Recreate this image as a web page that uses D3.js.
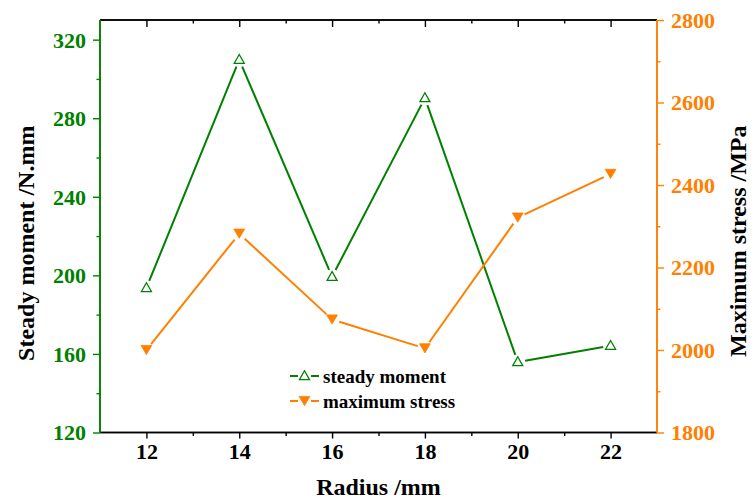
<!DOCTYPE html>
<html>
<head>
<meta charset="utf-8">
<script src="https://cdn.jsdelivr.net/npm/d3@7/dist/d3.min.js"></script>
<style>
  html, body { margin: 0; padding: 0; background: #fff; }
  svg { display: block; font-family: "Liberation Serif", "Times New Roman", serif; font-weight: bold; }
</style>
</head>
<body>
<svg id="chart" width="755" height="500"></svg>
<script>
// ---- data ----
const radius = [12, 14, 16, 18, 20, 22];
const steadyMoment = [193.6, 309.8, 199.3, 290.3, 155.9, 164.2];
const maxStress = [2000, 2282, 2074, 2004, 2321, 2427];
const xTicks = [12, 14, 16, 18, 20, 22];
const leftTicks = [120, 160, 200, 240, 280, 320];
const rightTicks = [1800, 2000, 2200, 2400, 2600, 2800];
const seriesNames = ["steady moment", "maximum stress"];

// ---- layout ----
const W = 755, H = 500;
const L = 100, R = 657, T = 20, B = 432.5;
const GREEN = "#008000", ORANGE = "#ff8000";

const svg = d3.select("#chart");

const x = d3.scaleLinear().domain([11, 23]).range([L, R]);
const yL = d3.scaleLinear().domain([120, 330]).range([B, T]);
const yR = d3.scaleLinear().domain([1800, 2800]).range([B, T]);

function minor(ticks, step) {
  const out = [];
  for (let i = 0; i < ticks.length; i++) {
    out.push(ticks[i] - step / 2);
  }
  out.push(ticks[ticks.length - 1] + step / 2);
  return out;
}

// ---- axes ----
const fontTick = 22;

// bottom axis
const gB = svg.append("g").attr("transform", `translate(0,${B})`);
gB.call(d3.axisBottom(x).tickValues(xTicks).tickSize(6).tickFormat(d3.format("d")));
gB.append("g").call(d3.axisBottom(x).tickValues(minor(xTicks, 2).filter(v => v > 11 && v < 23)).tickSize(3.5).tickFormat(""));
gB.selectAll("path.domain").attr("stroke", "#000").attr("stroke-width", 1.6).attr("d", `M${L},0H${R}`);
gB.selectAll(".tick line").attr("stroke", "#000").attr("stroke-width", 1.4);
gB.selectAll(".tick text").attr("font-size", fontTick).attr("font-family", "Liberation Serif").attr("font-weight", "bold").attr("fill", "#000").attr("dy", "0.9em").attr("y", 7);

// top axis (inward ticks, no labels)
const gT = svg.append("g").attr("transform", `translate(0,${T})`);
gT.call(d3.axisTop(x).tickValues(xTicks).tickSize(-7).tickFormat(""));
gT.append("g").call(d3.axisTop(x).tickValues(minor(xTicks, 2).filter(v => v > 11 && v < 23)).tickSize(-3.5).tickFormat(""));
gT.selectAll("path.domain").attr("stroke", "#000").attr("stroke-width", 1.6).attr("d", `M${L},0H${R}`);
gT.selectAll(".tick line").attr("stroke", "#000").attr("stroke-width", 1.4);

// left axis
const gL = svg.append("g").attr("transform", `translate(${L},0)`);
gL.call(d3.axisLeft(yL).tickValues(leftTicks).tickSize(7).tickFormat(d3.format("d")));
gL.append("g").call(d3.axisLeft(yL).tickValues(minor(leftTicks, 40).filter(v => v > 120 && v < 330)).tickSize(3.5).tickFormat(""));
gL.selectAll("path.domain").attr("stroke", GREEN).attr("stroke-width", 1.6).attr("d", `M0,${B}V${T}`);
gL.selectAll(".tick line").attr("stroke", GREEN).attr("stroke-width", 1.4);
gL.selectAll(".tick text").attr("font-size", fontTick).attr("font-family", "Liberation Serif").attr("font-weight", "bold").attr("fill", GREEN).attr("x", -14).attr("dy", "0.34em");

// right axis
const gR = svg.append("g").attr("transform", `translate(${R},0)`);
gR.call(d3.axisRight(yR).tickValues(rightTicks).tickSize(7).tickFormat(d3.format("d")));
gR.append("g").call(d3.axisRight(yR).tickValues(minor(rightTicks, 200).filter(v => v > 1800 && v < 2800)).tickSize(3.5).tickFormat(""));
gR.selectAll("path.domain").attr("stroke", ORANGE).attr("stroke-width", 1.6).attr("d", `M0,${B}V${T}`);
gR.selectAll(".tick line").attr("stroke", ORANGE).attr("stroke-width", 1.4);
gR.selectAll(".tick text").attr("font-size", fontTick).attr("font-family", "Liberation Serif").attr("font-weight", "bold").attr("fill", ORANGE).attr("x", 14).attr("dy", "0.34em");

// ---- axis titles ----
svg.append("text").attr("x", (L + R) / 2).attr("y", 495)
  .attr("text-anchor", "middle").attr("font-size", 24).attr("fill", "#000")
  .text("Radius /mm");
svg.append("text").attr("transform", `translate(34,${(T + B) / 2 + 17}) rotate(-90)`)
  .attr("text-anchor", "middle").attr("font-size", 24).attr("fill", "#000")
  .text("Steady moment /N.mm");
svg.append("text").attr("transform", `translate(746,${(T + B) / 2 + 15}) rotate(-90)`)
  .attr("text-anchor", "middle").attr("font-size", 24).attr("fill", "#000")
  .text("Maximum stress /MPa");

// ---- series ----
const GAP = 7.5;
function gappedSegments(pts) {
  const segs = [];
  for (let i = 0; i < pts.length - 1; i++) {
    const [x1, y1] = pts[i], [x2, y2] = pts[i + 1];
    const dx = x2 - x1, dy = y2 - y1, len = Math.hypot(dx, dy);
    const ux = dx / len, uy = dy / len;
    segs.push([x1 + ux * GAP, y1 + uy * GAP, x2 - ux * GAP, y2 - uy * GAP]);
  }
  return segs;
}

const upTri = "M0,-5.2L5,3.6L-5,3.6Z";
const downTri = "M-5.4,-4.6L5.4,-4.6L0,4.6Z";

const ptsS = radius.map((r, i) => [x(r), yL(steadyMoment[i])]);
const ptsM = radius.map((r, i) => [x(r), yR(maxStress[i])]);

function drawSeries(pts, color, path, filled) {
  const g = svg.append("g");
  g.selectAll("line").data(gappedSegments(pts)).join("line")
    .attr("x1", d => d[0]).attr("y1", d => d[1]).attr("x2", d => d[2]).attr("y2", d => d[3])
    .attr("stroke", color).attr("stroke-width", 2);
  g.selectAll("path").data(pts).join("path")
    .attr("transform", d => `translate(${d[0]},${d[1]})`)
    .attr("d", path)
    .attr("fill", filled ? color : "#fff")
    .attr("stroke", color).attr("stroke-width", filled ? 0.8 : 1.3);
}
drawSeries(ptsS, GREEN, upTri, false);
drawSeries(ptsM, ORANGE, downTri, true);

// ---- legend ----
const legend = [
  { name: seriesNames[0], color: GREEN, path: upTri, filled: false, y: 376 },
  { name: seriesNames[1], color: ORANGE, path: downTri, filled: true, y: 401 }
];
const lg = svg.append("g");
legend.forEach(d => {
  lg.append("line").attr("x1", 290).attr("x2", 298).attr("y1", d.y).attr("y2", d.y).attr("stroke", d.color).attr("stroke-width", 2);
  lg.append("line").attr("x1", 311).attr("x2", 319).attr("y1", d.y).attr("y2", d.y).attr("stroke", d.color).attr("stroke-width", 2);
  lg.append("path").attr("transform", `translate(304.5,${d.y})`).attr("d", d.path)
    .attr("fill", d.filled ? d.color : "#fff").attr("stroke", d.color).attr("stroke-width", d.filled ? 0.8 : 1.3);
  lg.append("text").attr("x", 323).attr("y", d.y + 6.5).attr("font-size", 19).attr("fill", "#000").text(d.name);
});
</script>
</body>
</html>
